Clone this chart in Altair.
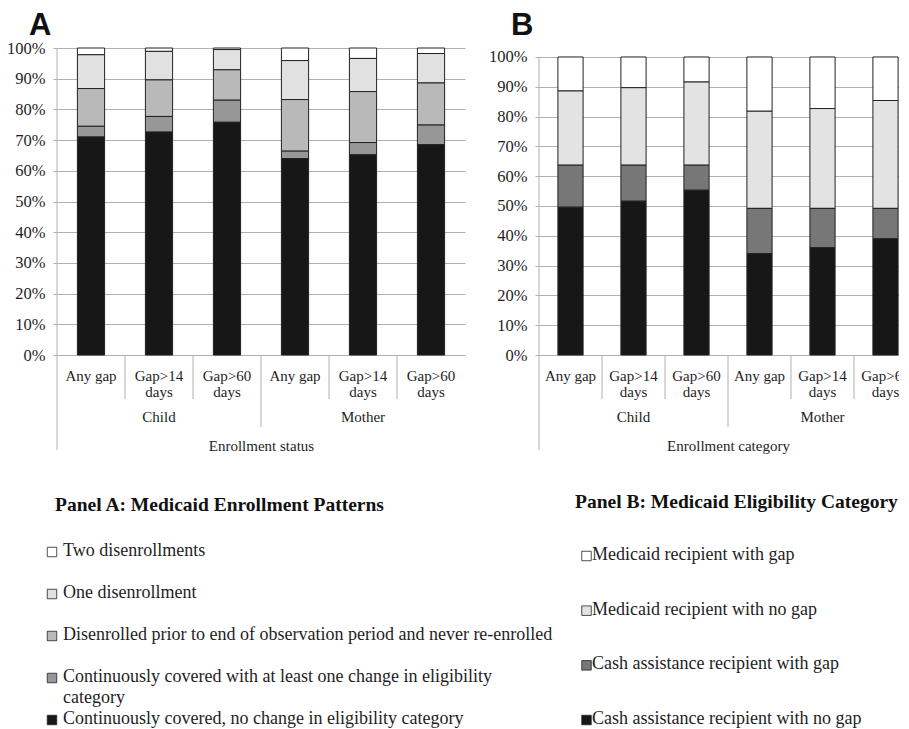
import altair as alt
import pandas as pd

# ---------------- data ----------------
groups = ["Child", "Child", "Child", "Mother", "Mother", "Mother"]
gaps = ["Any gap", "Gap>14 days", "Gap>60 days", "Any gap", "Gap>14 days", "Gap>60 days"]

# Panel A (percent), legend order top -> bottom
a_series = [
    "Two disenrollments",
    "One disenrollment",
    "Disenrolled prior to end of observation period and never re-enrolled",
    "Continuously covered with at least one change in eligibility category",
    "Continuously covered, no change in eligibility category",
]
a_legend_text = [
    "Two disenrollments",
    "One disenrollment",
    "Disenrolled prior to end of observation period and never re-enrolled",
    "Continuously covered with at least one change in eligibility\ncategory",
    "Continuously covered, no change in eligibility category",
]
a_two = [2.2, 1.1, 0.5, 4.1, 3.4, 1.8]
a_one = [11.0, 9.3, 6.6, 12.7, 10.8, 9.6]
a_disenrolled = [12.3, 11.9, 9.9, 16.8, 16.6, 13.7]
a_change = [3.5, 5.1, 7.2, 2.4, 4.0, 6.4]
a_nochange = [71.0, 72.6, 75.8, 64.0, 65.2, 68.5]
a_colors = ["#ffffff", "#e1e1e1", "#b9b9b9", "#979797", "#171717"]

# Panel B (percent), legend order top -> bottom
b_series = [
    "Medicaid recipient with gap",
    "Medicaid recipient with no gap",
    "Cash assistance recipient with gap",
    "Cash assistance recipient with no gap",
]
b_med_gap = [11.4, 10.3, 8.4, 18.2, 17.3, 14.6]
b_med_nogap = [24.9, 26.0, 27.9, 32.6, 33.5, 36.2]
b_cash_gap = [14.1, 12.1, 8.4, 15.2, 13.2, 10.2]
b_cash_nogap = [49.6, 51.6, 55.3, 34.0, 36.0, 39.0]
b_colors = ["#ffffff", "#e3e3e3", "#777777", "#171717"]

y_ticks = [0.0, 0.1, 0.2, 0.3, 0.4, 0.5, 0.6, 0.7, 0.8, 0.9, 1.0]

cats = [f"{g}|{p}" for g, p in zip(groups, gaps)]

SERIF = "Liberation Serif"
TXT = "#1e1e1e"
GRAY = "#b0b0b0"


def long_df(series, values):
    rows = []
    n = len(series)
    for i, (s, vals) in enumerate(zip(series, values)):
        for c, v in zip(cats, vals):
            rows.append({"cat": c, "series": s, "rank": n - i, "value": v / 100.0})
    return pd.DataFrame(rows)


def bar_panel(df, series, colors, W, H, ymax, xtitle, letter):
    xscale = alt.Scale(domain=cats, paddingInner=0, paddingOuter=0)
    xaxis = alt.Axis(
        title=xtitle,
        titleFont=SERIF, titleFontSize=15, titleFontWeight="normal", titleColor=TXT,
        titleY=90, titleBaseline="middle",
        labelExpr="split(replace(split(datum.label, '|')[1], ' days', '#days'), '#')",
        labelFont=SERIF, labelFontSize=15, labelColor=TXT, labelLineHeight=16,
        labelAngle=0, labelPadding=13, labelOverlap=False, labelLimit=200,
        ticks=False, domain=False, grid=False,
    )
    yscale = alt.Scale(domain=[0, ymax], nice=False)
    yaxis = alt.Axis(
        title=None, format=".0%", values=y_ticks,
        labelFont=SERIF, labelFontSize=16.5, labelColor=TXT, labelPadding=8,
        grid=True, gridColor=GRAY, gridWidth=1,
        ticks=True, tickColor=GRAY, tickSize=4, domain=False,
    )
    cscale = alt.Scale(domain=series, range=colors)

    bars = alt.Chart(df).mark_bar(
        width=alt.RelativeBandSize(0.4), stroke="#222222", strokeWidth=1
    ).encode(
        x=alt.X("cat:N", sort=cats, scale=xscale, axis=xaxis),
        y=alt.Y("value:Q", stack="zero", scale=yscale, axis=yaxis),
        color=alt.Color("series:N", scale=cscale, legend=None),
        order=alt.Order("rank:Q", sort="ascending"),
    )

    def sep(cat_list, y2px, from_top=False):
        d = pd.DataFrame({"cat": cat_list, "top": [1.0] * len(cat_list)})
        y1 = alt.Y("top:Q", scale=yscale, axis=yaxis) if from_top else alt.value(H)
        return alt.Chart(d).mark_rule(color=GRAY, strokeWidth=1).encode(
            x=alt.X("cat:N", sort=cats, scale=xscale, axis=xaxis, bandPosition=0),
            y=y1,
            y2=alt.value(y2px),
        )

    inner = sep([cats[1], cats[2], cats[4], cats[5]], H + 44)
    grp = sep([cats[3]], H + 72)
    left = sep([cats[0]], H + 95, from_top=True)

    glabels = alt.Chart(
        pd.DataFrame({"cat": [cats[1], cats[4]], "group": [groups[1], groups[4]]})
    ).mark_text(font=SERIF, fontSize=15, color=TXT, baseline="middle").encode(
        x=alt.X("cat:N", sort=cats, scale=xscale, axis=xaxis),
        y=alt.value(H + 62),
        text="group:N",
    )

    tag = alt.Chart(pd.DataFrame({"t": [letter]})).mark_text(
        align="left", baseline="alphabetic", font="Liberation Sans",
        fontSize=31, fontWeight="bold", color="#111111",
    ).encode(x=alt.value(-28), y=alt.value(-13), text="t:N")

    return alt.layer(bars, inner, grp, left, glabels, tag).properties(width=W, height=H)


def legend_panel(series, texts, colors, W, H, pad, title, tx0, ty0, sqx, txx):
    df = pd.DataFrame({"series": series, "label": texts})
    cscale = alt.Scale(domain=series, range=colors)
    yenc = alt.Y("series:N", sort=series,
                 scale=alt.Scale(type="point", padding=pad), axis=None)
    sq = alt.Chart(df).mark_square(
        size=90, stroke="#222222", strokeWidth=0.8, opacity=1
    ).encode(
        y=yenc, x=alt.value(sqx),
        color=alt.Color("series:N", scale=cscale, legend=None),
    )
    tx = alt.Chart(df).mark_text(
        align="left", baseline="top", dy=-10, lineBreak="\n", lineHeight=21,
        font=SERIF, fontSize=18, color=TXT,
    ).encode(y=yenc, x=alt.value(txx), text="label:N")
    ttl = alt.Chart(pd.DataFrame({"t": [title]})).mark_text(
        align="left", baseline="alphabetic", font=SERIF, fontSize=19.5,
        fontWeight="bold", color="#111111",
    ).encode(x=alt.value(tx0), y=alt.value(ty0), text="t:N")
    return alt.layer(sq, tx, ttl).properties(width=W, height=H)


df_a = long_df(a_series, [a_two, a_one, a_disenrolled, a_change, a_nochange])
df_b = long_df(b_series, [b_med_gap, b_med_nogap, b_cash_gap, b_cash_nogap])

H = 307
panel_a = bar_panel(df_a, a_series, a_colors, 408, H, 1.0, "Enrollment status", "A")
panel_b = bar_panel(df_b, b_series, b_colors, 378, H, 1.0302, "Enrollment category", "B")

leg_a = legend_panel(a_series, a_legend_text, a_colors, 408, 168, 0,
                     "Panel A: Medicaid Enrollment Patterns", -2, -41.5, -5, 6)
leg_b = legend_panel(b_series, b_series, b_colors, 378, 172, 0.073,
                     "Panel B: Medicaid Eligibility Category", 36, -44, 47.5, 53)

chart = alt.concat(
    panel_a, panel_b, leg_a, leg_b,
    columns=2, spacing={"row": 197, "column": 74},
    bounds="flush", align="each",
).resolve_scale(color="independent").configure_view(
    strokeWidth=0
).properties(
    padding={"left": -2, "top": 2, "right": -18, "bottom": 0},
    background="white",
)

chart.save("out.html", embed_options={"renderer": "svg", "actions": False})
